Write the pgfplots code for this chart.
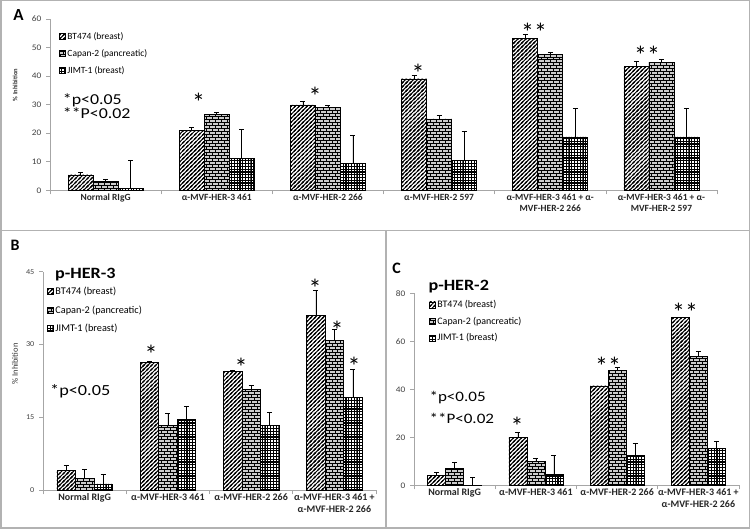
\documentclass[border=0pt]{standalone}
\usepackage{fontspec}
\setmainfont{Carlito}
\usepackage{pgfplots}
\usepackage{pgfplotstable}
\pgfplotsset{compat=1.18}
\usetikzlibrary{patterns}

% bar fills
\pgfdeclarepatternformonly{hatch}{\pgfqpoint{-1pt}{-1pt}}{\pgfqpoint{5pt}{5pt}}{\pgfqpoint{4pt}{4pt}}{%
  \pgfsetlinewidth{1pt}
  \pgfpathmoveto{\pgfqpoint{-0.5pt}{-0.5pt}}\pgfpathlineto{\pgfqpoint{4.5pt}{4.5pt}}
  \pgfpathmoveto{\pgfqpoint{-1pt}{3pt}}\pgfpathlineto{\pgfqpoint{1pt}{5pt}}
  \pgfpathmoveto{\pgfqpoint{3pt}{-1pt}}\pgfpathlineto{\pgfqpoint{5pt}{1pt}}
  \pgfusepath{stroke}}
\pgfdeclarepatternformonly{brk}{\pgfqpoint{-0.5pt}{-0.5pt}}{\pgfqpoint{6.5pt}{6.5pt}}{\pgfqpoint{6pt}{6pt}}{%
  \pgfsetlinewidth{0.5pt}
  \pgfpathmoveto{\pgfqpoint{0pt}{0pt}}\pgfpathlineto{\pgfqpoint{6pt}{0pt}}
  \pgfpathmoveto{\pgfqpoint{0pt}{3pt}}\pgfpathlineto{\pgfqpoint{6pt}{3pt}}
  \pgfpathmoveto{\pgfqpoint{0pt}{0pt}}\pgfpathlineto{\pgfqpoint{0pt}{3pt}}
  \pgfpathmoveto{\pgfqpoint{3pt}{3pt}}\pgfpathlineto{\pgfqpoint{3pt}{6pt}}
  \pgfusepath{stroke}}
\pgfdeclarepatternformonly{chk}{\pgfqpoint{-0.7pt}{-0.7pt}}{\pgfqpoint{3.5pt}{3.5pt}}{\pgfqpoint{2.8pt}{2.8pt}}{%
  \pgfsetlinewidth{1.2pt}
  \pgfpathmoveto{\pgfqpoint{-0.1pt}{0pt}}\pgfpathlineto{\pgfqpoint{2.9pt}{0pt}}
  \pgfpathmoveto{\pgfqpoint{0pt}{-0.1pt}}\pgfpathlineto{\pgfqpoint{0pt}{2.9pt}}
  \pgfusepath{stroke}}

\pgfplotstableread{
x a ae b be c ce
0 5.4 0.9 3.1 0.8 0.6 9.9
1 21.0 0.9 26.7 0.6 11.1 10.1
2 29.9 1.2 28.9 0.9 9.5 9.9
3 39.0 1.2 25.0 1.2 10.5 10.2
4 53.3 1.3 47.6 0.8 18.7 10.1
5 43.5 1.6 44.9 0.9 18.7 10.0
}\dataA
\pgfplotstableread{
x a ae b be c ce
0 4.1 1.0 2.4 1.9 1.3 2.0
1 26.3 0.3 13.4 2.4 14.6 2.7
2 24.4 0.4 20.8 0.8 13.4 2.7
3 36.0 5.1 30.9 2.3 19.1 5.8
}\dataB
\pgfplotstableread{
x a ae b be c ce
0 4.1 1.4 7.1 2.4 0.1 3.1
1 20.1 2.1 10.1 1.0 4.7 7.9
2 41.4 0.0 47.9 1.1 12.5 5.0
3 69.9 0.0 53.6 2.1 15.3 2.9
}\dataC

\pgfplotsset{
  panel/.style={scale only axis, anchor=south west, ybar=0pt, ymin=0, xmin=-0.5,
    axis x line*=bottom, axis y line*=left,
    axis line style={gray!70, line width=0.7bp},
    tick align=outside, major tick length=4bp,
    tick style={gray!70, line width=0.6bp},
    xticklabels={}, extra x tick style={major tick length=0pt},
    yticklabel style={font=\fontsize{8.5}{8.5}\selectfont, text=black!75, xscale=1.1, inner xsep=4bp},
    xticklabel style={font=\bfseries\fontsize{9.5}{11.6}\selectfont, align=center, text=black!85},
    /pgf/number format/assume math mode=true, clip=false,
    error bars/error bar style={black, line width=0.6bp},
    error bars/error mark options={black, rotate=90, mark size=2.5bp, line width=0.6bp},
    legend cell align=left,
    legend style={draw=none, fill=none, inner sep=0pt, anchor=north west}},
  sq/.style={legend image code/.code={\draw[##1] (0bp,-3bp) rectangle (6bp,3bp);}},
  bt/.style={draw=black, line width=0.6bp, fill=white, postaction={pattern=hatch}, sq},
  cp/.style={draw=black, line width=0.6bp, fill=gray!40, postaction={pattern=brk}, sq},
  jm/.style={draw=black, line width=0.6bp, fill=white, postaction={pattern=chk}, sq},
}
\newcommand{\st}[3]{\node[font=\fontsize{26}{26}\selectfont, anchor=base, inner sep=0pt] at (#1,{529-#2-13.5}) {#3};}

\begin{document}
\begin{tikzpicture}[x=1bp, y=1bp]
\path[use as bounding box] (0,0) rectangle (750,529);

% panel A
\begin{axis}[panel, at={(50bp,338.7bp)}, width=667bp, height=171.3bp,
  xmax=5.5, ymax=60, ytick={0,10,...,60}, bar width=25bp,
  xtick={-0.5,0.5,...,5.5},
  extra x ticks={0,...,5},
  extra x tick labels={Normal RIgG, α-MVF-HER-3 461, α-MVF-HER-2 266, α-MVF-HER-2 597,
    {α-MVF-HER-3 461 + α-\\MVF-HER-2 266}, {α-MVF-HER-3 461 + α-\\MVF-HER-2 597}},
  legend style={at={(0.013,0.935)}, row sep=4.6bp, font=\fontsize{9.5}{9.5}\selectfont}]
\addplot[bt, error bars/.cd, y dir=plus, y explicit] table[x=x, y=a, y error=ae] {\dataA};
\addplot[cp, error bars/.cd, y dir=plus, y explicit] table[x=x, y=b, y error=be] {\dataA};
\addplot[jm, error bars/.cd, y dir=plus, y explicit] table[x=x, y=c, y error=ce] {\dataA};
\legend{BT474 (breast), Capan-2 (pancreatic), JIMT-1 (breast)}
\end{axis}

% panel B
\begin{axis}[panel, at={(43bp,38.7bp)}, width=333bp, height=218.6bp,
  xmax=3.5, ymax=45, ytick={0,15,30,45}, bar width=18.5bp,
  yticklabel style={font=\fontsize{7.5}{7.5}\selectfont},
  xticklabel style={font=\bfseries\fontsize{10}{11.7}\selectfont},
  xtick={-0.5,0.5,...,3.5},
  extra x ticks={0,...,3},
  extra x tick labels={Normal RIgG, α-MVF-HER-3 461, α-MVF-HER-2 266,
    {α-MVF-HER-3 461 +\\α-MVF-HER-2 266}},
  legend style={at={(0.011,0.939)}, row sep=5.4bp, font=\fontsize{10.3}{10.3}\selectfont}]
\addplot[bt, error bars/.cd, y dir=plus, y explicit] table[x=x, y=a, y error=ae] {\dataB};
\addplot[cp, error bars/.cd, y dir=plus, y explicit] table[x=x, y=b, y error=be] {\dataB};
\addplot[jm, error bars/.cd, y dir=plus, y explicit] table[x=x, y=c, y error=ce] {\dataB};
\legend{BT474 (breast), Capan-2 (pancreatic), JIMT-1 (breast)}
\end{axis}

% panel C
\begin{axis}[panel, at={(414bp,43.7bp)}, width=325bp, height=192bp,
  xmax=3.5, ymax=80, ytick={0,20,...,80}, bar width=18bp,
  xticklabel style={font=\bfseries\fontsize{10}{11.7}\selectfont},
  xtick={-0.5,0.5,...,3.5},
  extra x ticks={0,...,3},
  extra x tick labels={Normal RIgG, α-MVF-HER-3 461, α-MVF-HER-2 266,
    {α-MVF-HER-3 461 +\\α-MVF-HER-2 266}},
  legend style={at={(0.045,0.974)}, row sep=3.8bp, font=\fontsize{10}{10}\selectfont}]
\addplot[bt, error bars/.cd, y dir=plus, y explicit] table[x=x, y=a, y error=ae] {\dataC};
\addplot[cp, error bars/.cd, y dir=plus, y explicit] table[x=x, y=b, y error=be] {\dataC};
\addplot[jm, error bars/.cd, y dir=plus, y explicit] table[x=x, y=c, y error=ce] {\dataC};
\legend{BT474 (breast), Capan-2 (pancreatic), JIMT-1 (breast)}
\end{axis}

% frames
\draw[gray!60, line width=1.5bp] (0.75,0.75) rectangle (749.25,528.25);
\draw[gray!60, line width=1.5bp] (0,298.3) -- (750,298.3);
\draw[gray!60, line width=1.5bp] (386,0) -- (386,298.3);

% panel letters, titles, notes
\node[font=\bfseries\fontsize{17}{17}\selectfont] at (18.5,514) {A};
\node[font=\bfseries\fontsize{16}{16}\selectfont] at (15,284) {B};
\node[font=\bfseries\fontsize{16}{16}\selectfont] at (396.7,260.7) {C};
\node[font=\bfseries\fontsize{15.8}{15.8}\selectfont, anchor=base west, inner sep=0pt, xscale=1.15] at (55,250.7) {p-HER-3};
\node[font=\bfseries\fontsize{15.8}{15.8}\selectfont, anchor=base west, inner sep=0pt, xscale=1.15] at (428.3,238) {p-HER-2};
\node[font=\fontsize{15.2}{15.2}\selectfont, anchor=base west, inner sep=0pt, xscale=1.18] at (62.7,424.7) {*p<0.05};
\node[font=\fontsize{15.2}{15.2}\selectfont, anchor=base west, inner sep=0pt, xscale=1.18] at (62.7,410) {**P<0.02};
\node[font=\fontsize{15.5}{15.5}\selectfont, anchor=base west, inner sep=0pt, xscale=1.18] at (50,133) {*p<0.05};
\node[font=\fontsize{14.5}{14.5}\selectfont, anchor=base west, inner sep=0pt, xscale=1.18] at (429.3,127.3) {*p<0.05};
\node[font=\fontsize{14.5}{14.5}\selectfont, anchor=base west, inner sep=0pt, xscale=1.18] at (429.3,105.7) {**P<0.02};
\node[font=\bfseries\fontsize{6.5}{6.5}\selectfont, rotate=90, text=black!80] at (15,444) {\% Inhibition};
\node[font=\fontsize{8.5}{8.5}\selectfont, rotate=90, text=black!80] at (15,165) {\% Inhibition};

% significance marks
\st{198.5}{98}{*}
\st{315}{92}{*}
\st{418}{69}{*}
\st{534}{28}{**}
\st{647}{51}{**}
\st{151}{350}{*}
\st{241}{363}{*}
\st{315}{284}{*}
\st{337}{326}{*}
\st{354}{362}{*}
\st{517}{422}{*}
\st{608}{362}{**}
\st{685}{308}{**}
\end{tikzpicture}
\end{document}
